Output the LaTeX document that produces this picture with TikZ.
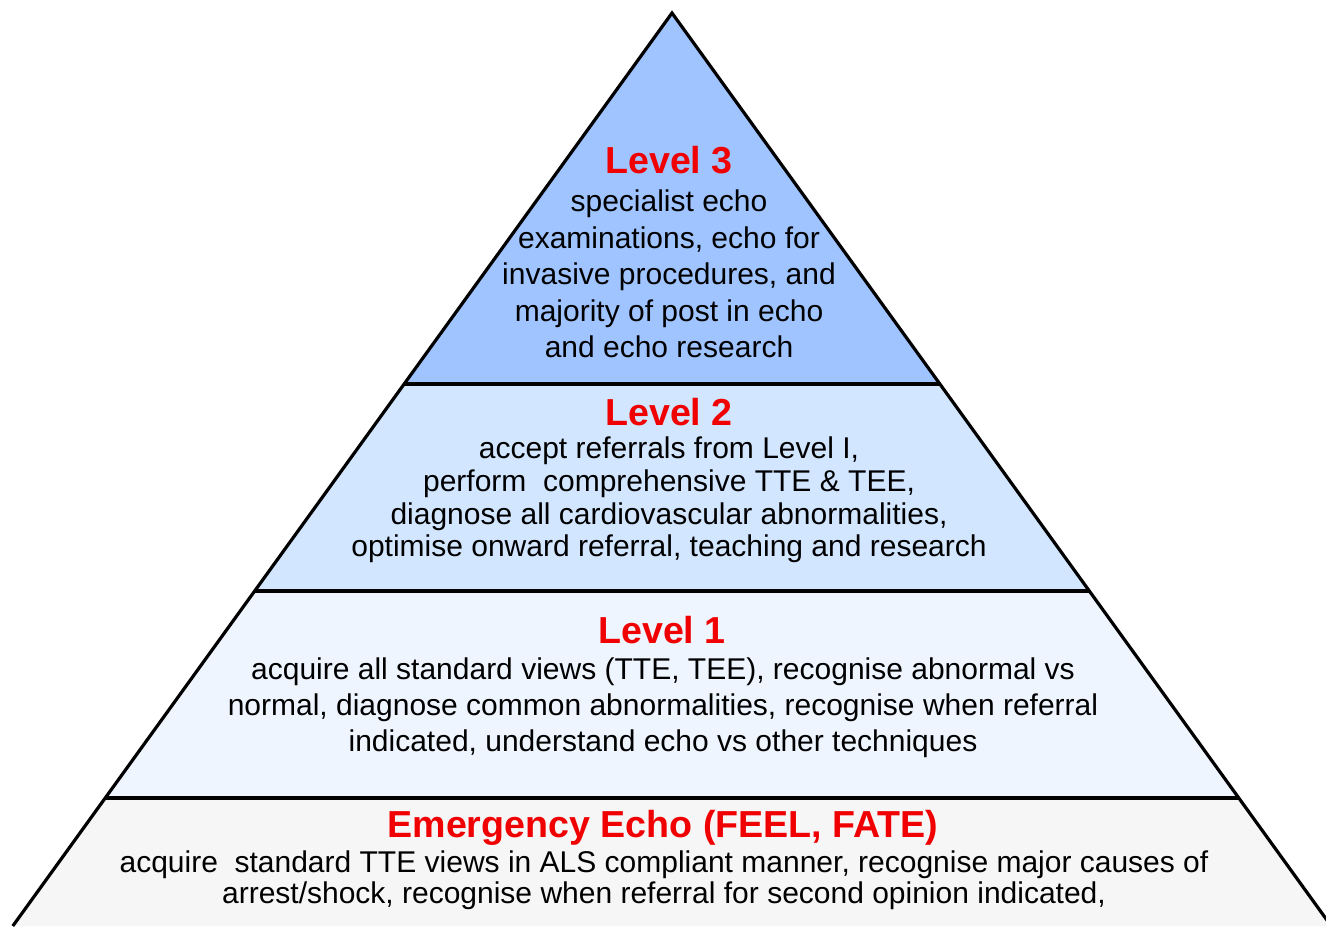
\documentclass[tikz,border=0pt]{standalone}
\usepackage{fontspec}
\setmainfont{Liberation Sans}
\definecolor{lvlthree}{RGB}{160,196,255}
\definecolor{lvltwo}{RGB}{210,230,255}
\definecolor{lvlone}{RGB}{238,245,255}
\definecolor{lvlemerg}{RGB}{246,246,246}
\definecolor{titlered}{RGB}{240,0,0}
\tikzset{
  edge/.style={line width=1.6pt, black, line join=miter},
  title/.style={inner sep=0.75pt, font=\fontsize{18.8}{22}\selectfont\bfseries, text=titlered},
  body/.style={inner sep=0.75pt, align=center, font=\fontsize{15}{18}\selectfont}
}
\begin{document}
\begin{tikzpicture}[x=0.5pt,y=0.5pt,yscale=-1]
\useasboundingbox (0,0) rectangle (1326,926);
\clip (0,0) rectangle (1326,926);

% corners of the pyramid
\coordinate (apex) at (672,13);
\coordinate (l3L) at (404.1,384);  \coordinate (l3R) at (939.9,384);
\coordinate (l2L) at (254.7,591);  \coordinate (l2R) at (1089.3,591);
\coordinate (l1L) at (105.2,798);  \coordinate (l1R) at (1238.8,798);
\coordinate (botL) at (12.8,926);  \coordinate (botR) at (1331.2,926);

%Shape: bands
\fill [lvlthree] (apex) -- (l3R) -- (l3L) -- cycle ;
\fill [lvltwo] (l3L) -- (l3R) -- (l2R) -- (l2L) -- cycle ;
\fill [lvlone] (l2L) -- (l2R) -- (l1R) -- (l1L) -- cycle ;
\fill [lvlemerg] (l1L) -- (l1R) -- (botR) -- (botL) -- cycle ;

%Straight Lines: outline and dividers
\draw [edge] (botL) -- (apex) -- (botR) ;
\draw [edge] (l3L) -- (l3R) ;
\draw [edge] (l2L) -- (l2R) ;
\draw [edge] (l1L) -- (l1R) ;

% Text Node
\node [title] (t3) at (669,160) {Level 3};
% Text Node
\node [body, font=\fontsize{15}{18.2}\selectfont] (b3) at (669,274) {specialist echo\\examinations, echo for\\invasive procedures, and\\majority of post in echo\\and echo research};
% Text Node
\node [title] (t2) at (669,412) {Level 2};
% Text Node
\node [body, font=\fontsize{15}{16.4}\selectfont] (b2) at (669,500) {accept referrals from Level I,\\perform\ \ comprehensive TTE \& TEE,\\diagnose all cardiovascular abnormalities,\\optimise onward referral, teaching and research};
% Text Node
\node [title] (t1) at (662,630) {Level 1};
% Text Node
\node [body] (b1) at (663,708) {acquire all standard views (TTE, TEE), recognise abnormal vs\\normal, diagnose common abnormalities, recognise when referral\\indicated, understand echo vs other techniques};
% Text Node
\node [title] (te) at (663,828) {Emergency Echo (FEEL, FATE)};
% Text Node
\node [body, font=\fontsize{15}{15.6}\selectfont] (be) at (664,880) {acquire\ \ standard TTE views in ALS compliant manner, recognise major causes of\\arrest/shock, recognise when referral for second opinion indicated,};

\end{tikzpicture}
\end{document}
